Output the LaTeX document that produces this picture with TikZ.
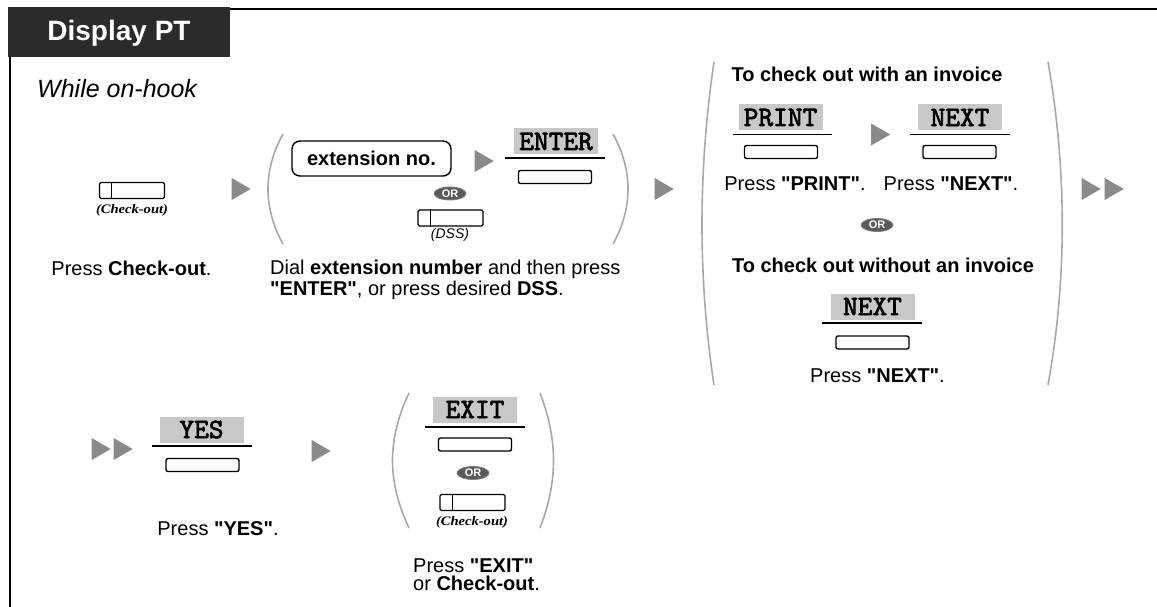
\documentclass[tikz,border=0pt]{standalone}
\usepackage{fontspec}
\setmainfont{Liberation Sans}[Ligatures=TeXOff]
\newfontfamily\lblfont{Liberation Serif}
\newfontfamily\keyfont{lmmono10-regular.otf}[FakeBold=2.5]
\usetikzlibrary{shapes.geometric}
\definecolor{trigray}{HTML}{8A8A8A}
\definecolor{keygray}{HTML}{C8C8C8}
\definecolor{parengray}{HTML}{A8A8A8}
\definecolor{orgray}{HTML}{5A5A5A}
\definecolor{hdr}{HTML}{2B2B2B}
\tikzset{
  txt/.style={inner sep=0pt, font=\fontsize{20}{21}\selectfont},
  keylbl/.style={fill=keygray, minimum width=84pt, minimum height=26pt, inner sep=0pt, font=\fontsize{28}{28}\selectfont\keyfont},
  btn/.style={draw, line width=1.4pt, rounded corners=2pt, minimum width=73pt, minimum height=13pt, inner sep=0pt},
  fbtn/.style={draw, line width=1.4pt, rounded corners=1.5pt, minimum width=65pt, minimum height=16pt, inner sep=0pt},
  keyrule/.style={line width=1.5pt},
  paren/.style={draw=parengray, line width=1.6pt},
  ornode/.style={ellipse, fill=orgray, draw=gray, line width=0.8pt, inner sep=0pt, minimum width=32pt, minimum height=13pt, text=white, font=\fontsize{11}{11}\selectfont\bfseries},
  tri/.style={isosceles triangle, isosceles triangle stretches, fill=trigray, inner sep=0pt, minimum height=19pt, minimum width=22pt},
  smallit/.style={inner sep=0pt, font=\fontsize{13}{13}\selectfont\lblfont\bfseries\itshape},
}
\newcommand{\colabel}{\scalebox{1.12}[1]{(Check-out)}}
\begin{document}
\begin{tikzpicture}[x=1pt,y=-1pt]
\useasboundingbox (0,0) rectangle (1157,607);
% frame and header
\fill[hdr] (8,7) rectangle (230,57);
\node[inner sep=0pt, text=white, font=\fontsize{28}{28}\selectfont\bfseries, anchor=base] (title) at (119,41) {Display PT};
\draw[line width=1.6pt] (230,9) -- (1157,9);
\draw[line width=2pt] (10,57) -- (10,607);
\node[inner sep=0pt, anchor=base west, font=\fontsize{25}{25}\selectfont\itshape] (hook) at (37,98) {While on-hook};

% step 1
\node[fbtn] (co1) at (132,190.5) {};
\draw[line width=1.2pt] ([xshift=13pt]co1.north west) -- ([xshift=13pt]co1.south west);
\node[smallit] (co1l) at (132,210) {\colabel};
\node[txt, anchor=base] (t1) at (131.5,275) {Press \textbf{Check-out}.};
\node[tri] (a1) at (238,189) {};

% step 2
\draw[paren] (283,134) .. controls (263,170) and (263,208) .. (283,244);
\draw[paren] (613,134) .. controls (633,170) and (633,208) .. (613,244);
\node[draw, line width=1.4pt, rounded corners=8pt, minimum width=159pt, minimum height=35pt, inner sep=0pt, font=\fontsize{20}{20}\selectfont\bfseries] (ext) at (371.5,158.5) {extension no.};
\node[tri] (a2) at (481,161) {};
\node[keylbl] (enter) at (556,141.5) {ENTER};
\draw[keyrule] (505,158) -- (605,158);
\node[btn] (enterb) at (555,177) {};
\node[ornode] (or1) at (450,193.5) {OR};
\node[fbtn] (dss) at (450.5,218) {};
\draw[line width=1.2pt] ([xshift=13pt]dss.north west) -- ([xshift=13pt]dss.south west);
\node[inner sep=0pt, font=\fontsize{14}{14}\selectfont\itshape] (dssl) at (450,235) {(DSS)};
\node[txt, anchor=base west] (t2a) at (270,274) {Dial \textbf{extension number} and then press};
\node[txt, anchor=base west] (t2b) at (270,295) {\textbf{"ENTER"}, or press desired \textbf{DSS}.};
\node[tri] (a3) at (661,189) {};

% step 3
\draw[paren] (714,62) .. controls (698,170) and (698,280) .. (714,385);
\draw[paren] (1048,62) .. controls (1067,170) and (1067,280) .. (1048,385);
\node[txt, anchor=base, font=\fontsize{20}{20}\selectfont\bfseries] (inv) at (867,82) {To check out with an invoice};
\node[keylbl] (print) at (780.5,117.5) {PRINT};
\draw[keyrule] (733,134.5) -- (832,134.5);
\node[btn] (printb) at (781,152) {};
\node[tri] (a4) at (877.5,134.5) {};
\node[keylbl] (next1) at (960,117.5) {NEXT};
\draw[keyrule] (910,134.5) -- (1010,134.5);
\node[btn] (next1b) at (959.5,152) {};
\node[txt, anchor=base] (tp) at (795,190) {Press \textbf{"PRINT"}.};
\node[txt, anchor=base] (tn1) at (951,190) {Press \textbf{"NEXT"}.};
\node[ornode] (or2) at (877,225) {OR};
\node[txt, anchor=base, font=\fontsize{20}{20}\selectfont\bfseries] (noinv) at (883,272) {To check out without an invoice};
\node[keylbl] (next2) at (872.5,306.5) {NEXT};
\draw[keyrule] (822,323) -- (922,323);
\node[btn] (next2b) at (872.5,342.5) {};
\node[txt, anchor=base] (tn2) at (877.5,382) {Press \textbf{"NEXT"}.};
\node[tri] (a5) at (1088,189) {};
\node[tri] (a6) at (1111,189) {};

% row 2
\node[tri] (a7) at (98,449) {};
\node[tri] (a8) at (120,449) {};
\node[keylbl] (yes) at (201.5,429.5) {YES};
\draw[keyrule] (152,446) -- (252,446);
\node[btn] (yesb) at (202.5,465) {};
\node[txt, anchor=base] (ty) at (218,535) {Press \textbf{"YES"}.};
\node[tri] (a9) at (318,451) {};

\draw[paren] (409,393) .. controls (387,440) and (387,481) .. (409,528);
\draw[paren] (540,393) .. controls (558,440) and (558,481) .. (540,528);
\node[keylbl] (exit) at (475,409.5) {EXIT};
\draw[keyrule] (425,427) -- (525,427);
\node[btn] (exitb) at (475,444.5) {};
\node[ornode] (or3) at (473,473) {OR};
\node[fbtn] (co2) at (472.5,502.5) {};
\draw[line width=1.2pt] ([xshift=13pt]co2.north west) -- ([xshift=13pt]co2.south west);
\node[smallit] (co2l) at (472,522) {\colabel};
\node[txt, anchor=base west] (te1) at (413,572) {Press \textbf{"EXIT"}};
\node[txt, anchor=base west] (te2) at (413,590) {or \textbf{Check-out}.};
\end{tikzpicture}
\end{document}
